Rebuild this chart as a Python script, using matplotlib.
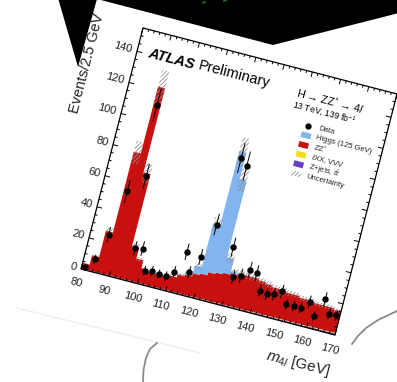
import numpy as np
import matplotlib
matplotlib.use("Agg")
import matplotlib.pyplot as plt
from matplotlib.transforms import Affine2D
from matplotlib.collections import LineCollection
from matplotlib.patches import Polygon

plt.rcParams['font.family'] = ['Liberation Sans', 'DejaVu Sans']
plt.rcParams['mathtext.fontset'] = 'custom'
plt.rcParams['mathtext.rm'] = 'Liberation Sans'
plt.rcParams['mathtext.it'] = 'Liberation Sans:italic'
plt.rcParams['mathtext.bf'] = 'Liberation Sans:bold'
plt.rcParams['hatch.linewidth'] = 0.6

# ---------------- data ----------------
bin_edges = np.arange(80.0, 170.0 + 1e-9, 2.5)
bin_centers = 0.5 * (bin_edges[:-1] + bin_edges[1:])

data_events = [2, 8, 25, 54, 111, 66, 21, 22, 9, 10, 9, 9, 13, 27, 15, 26, 48, 92,
               88, 37, 19, 21, 26, 25, 15, 14, 15, 18, 11, 11, 11, 16, 8, 20, 12, 12]
zjets_tt = [0.2, 0.3, 0.4, 0.5, 0.6, 0.5, 0.5, 0.5, 0.5, 0.5, 0.5, 0.5, 0.6, 0.6, 0.6, 0.6, 0.6, 0.6,
            0.6, 0.7, 0.7, 0.7, 0.7, 0.7, 0.7, 0.7, 0.8, 0.8, 0.8, 0.8, 0.8, 0.8, 0.9, 0.9, 0.9, 0.9]
txx_vvv = [0.1, 0.1, 0.1, 0.1, 0.1, 0.1, 0.1, 0.1, 0.1, 0.1, 0.1, 0.1, 0.1, 0.1, 0.1, 0.1, 0.2, 0.2,
           0.2, 0.2, 0.2, 0.2, 0.2, 0.2, 0.3, 0.3, 0.3, 0.3, 0.3, 0.3, 0.3, 0.3, 0.4, 0.4, 0.4, 0.4]
zz_star = [3.7, 9.6, 26.5, 78.4, 121.3, 67.4, 21.4, 14.4, 9.4, 8.4, 8.4, 8.4, 9.3, 11.3, 12.3, 14.3, 15.2, 17.2,
           18.2, 19.1, 20.1, 21.1, 21.1, 21.1, 20.0, 19.0, 17.9, 17.9, 16.9, 16.9, 15.9, 15.9, 14.7, 14.7, 14.7, 13.7]
higgs_125 = [0, 0, 0, 0, 0, 0, 0, 0, 0, 0, 0, 0, 0.1, 0.3, 1.5, 5, 32, 78,
             60, 10, 1.2, 0.3, 0.1, 0, 0, 0, 0, 0, 0, 0, 0, 0, 0, 0, 0, 0]
unc_rel = 0.09

x_ticks = [80, 90, 100, 110, 120, 130, 140, 150, 160, 170]
y_ticks = [0, 20, 40, 60, 80, 100, 120, 140]
legend_labels = ["Data", "Higgs (125 GeV)", r"ZZ$^{*}$", r"$t$XX, VVV", r"Z+jets, $t\bar{t}$", "Uncertainty"]

# ---------------- style ----------------
c_higgs = '#82b4ef'
c_zz = '#c8100f'
c_txx = '#f2dc1c'
c_zj = '#6a3fc8'

fig = plt.figure(figsize=(3.97, 3.82), dpi=100)
fig.patch.set_facecolor('white')
ax = fig.add_axes([0, 0, 1, 1])
ax.set_xlim(0, 397)
ax.set_ylim(382, 0)
ax.axis('off')

# photo background elements
ax.add_patch(Polygon([(58, -2), (78, 67), (97, -1), (273, 45), (399, 13), (399, -2)],
                     closed=True, facecolor='black', edgecolor='none', zorder=0))
ax.plot([203, 205], [3, 2], color='#2f6a2f', lw=1.2, zorder=0.5)
ax.plot([224, 226], [1, 0], color='#2f6a2f', lw=1.2, zorder=0.5)
ax.plot([17, 200], [308, 353], color='#efefef', lw=1.0, zorder=0.2)
ax.plot([143, 143.5, 146, 150, 157], [382, 370, 358, 349, 343], color='#8a8a8a', lw=1.3)
ax.plot([352, 358, 366, 378, 397], [344, 336, 328, 320, 311], color='#8a8a8a', lw=1.3)

# rotated plot frame transform (data -> pixel)
O = np.array([81.0, 269.0])
PX_X = np.array([254.0, 66.0])
PX_Y = np.array([62.0, -241.0])
XMIN, XMAX, YMAX = 80.0, 170.0, 155.0
ex = PX_X / (XMAX - XMIN)
ey = PX_Y / YMAX
mat = np.array([[ex[0], ey[0], O[0] - XMIN * ex[0]],
                [ex[1], ey[1], O[1] - XMIN * ex[1]],
                [0.0, 0.0, 1.0]])
T = Affine2D(mat) + ax.transData
ang_x = np.degrees(np.arctan2(-PX_X[1], PX_X[0]))
ang_y = np.degrees(np.arctan2(-PX_Y[1], PX_Y[0]))

# stacked histogram
s1 = np.array(zjets_tt)
s2 = s1 + np.array(txx_vvv)
s3 = s2 + np.array(zz_star)
s4 = s3 + np.array(higgs_125)
ax.stairs(s1, bin_edges, baseline=0, fill=True, color=c_zj, lw=0, transform=T, zorder=2)
ax.stairs(s2, bin_edges, baseline=s1, fill=True, color=c_txx, lw=0, transform=T, zorder=2)
ax.stairs(s3, bin_edges, baseline=s2, fill=True, color=c_zz, lw=0, transform=T, zorder=2)
ax.stairs(s4, bin_edges, baseline=s3, fill=True, color=c_higgs, lw=0, transform=T, zorder=2)
ax.stairs(s4 * (1 + unc_rel), bin_edges, baseline=s4 * (1 - unc_rel), fill=True,
          facecolor='none', edgecolor='#8f8f8f', hatch='////////', lw=0, transform=T, zorder=3)

# frame and ticks
ax.add_patch(Polygon([(XMIN, 0), (XMAX, 0), (XMAX, YMAX), (XMIN, YMAX)], closed=True, fill=False,
                     edgecolor='black', lw=0.9, transform=T, zorder=4))
segs = []
for v in np.arange(80, 170.01, 2):
    L = 3.2 if v % 10 == 0 else 1.6
    segs += [[(v, 0), (v, L)], [(v, YMAX), (v, YMAX - L)]]
for v in np.arange(0, 155.01, 5):
    L = 1.8 if v % 20 == 0 else 0.9
    segs += [[(XMIN, v), (XMIN + L, v)], [(XMAX, v), (XMAX - L, v)]]
ax.add_collection(LineCollection(segs, colors='black', linewidths=0.7, transform=T, zorder=4),
                  autolim=False)

for v in x_ticks:
    ax.text(v - 0.5, -9.2, str(v), transform=T, rotation=ang_x, rotation_mode='anchor',
            ha='center', va='center', fontsize=8, color='#222222')
for v in y_ticks:
    ax.text(78.2, v, str(v), transform=T, rotation=ang_x, rotation_mode='anchor',
            ha='right', va='center', fontsize=8, color='#222222')

# data points
dat = np.array(data_events, dtype=float)
err_segs = [[(c, n - np.sqrt(n)), (c, n + np.sqrt(n))] for c, n in zip(bin_centers, dat)]
ax.add_collection(LineCollection(err_segs, colors='black', linewidths=0.7, transform=T, zorder=5),
                  autolim=False)
ax.plot(bin_centers, dat, 'o', color='black', ms=3.6, transform=T, zorder=6)

# axis titles
ax.text(64.5, 157, "Events/2.5 GeV", transform=T, rotation=ang_y, rotation_mode='anchor',
        ha='right', va='center', fontsize=10.5, color='#222222')
ax.text(171.5, -23, r"$m_{4l}$ [GeV]", transform=T, rotation=ang_x, rotation_mode='anchor',
        ha='right', va='center', fontsize=11, color='#222222')

# labels
ax.text(84.0, 138.5, "ATLAS", transform=T, rotation=ang_x, rotation_mode='anchor',
        ha='left', va='baseline', fontsize=10.5, fontweight='bold', fontstyle='italic')
ax.text(101.5, 138.5, "Preliminary", transform=T, rotation=ang_x, rotation_mode='anchor',
        ha='left', va='baseline', fontsize=10.5)
ax.text(136.5, 137.0, r"H → ZZ$^{*}$ → 4$l$", transform=T, rotation=ang_x, rotation_mode='anchor',
        ha='left', va='baseline', fontsize=7.8)
ax.text(136.3, 130.0, r"13 TeV, 139 fb$^{-1}$", transform=T, rotation=ang_x, rotation_mode='anchor',
        ha='left', va='baseline', fontsize=6.2)

# legend
leg_y = [122.0, 115.8, 109.6, 103.4, 97.2, 91.0]
leg_colors = [None, c_higgs, c_zz, c_txx, c_zj, None]
for i, (lab, yy) in enumerate(zip(legend_labels, leg_y)):
    if i == 0:
        ax.plot([143.3], [yy], 'o', color='black', ms=3.5, transform=T, zorder=6)
    elif i == 5:
        ax.add_patch(Polygon([(141.6, yy - 1.6), (145.0, yy - 1.6), (145.0, yy + 1.6), (141.6, yy + 1.6)],
                             closed=True, facecolor='none', edgecolor='#8f8f8f', hatch='////////',
                             lw=0, transform=T, zorder=5))
    else:
        ax.add_patch(Polygon([(141.6, yy - 1.8), (145.0, yy - 1.8), (145.0, yy + 1.8), (141.6, yy + 1.8)],
                             closed=True, facecolor=leg_colors[i], edgecolor='none',
                             transform=T, zorder=5))
    ax.text(146.8, yy, lab, transform=T, rotation=ang_x, rotation_mode='anchor',
            ha='left', va='center', fontsize=5.5, color='#222222')

fig.savefig("out.png", dpi=100, facecolor='white')
